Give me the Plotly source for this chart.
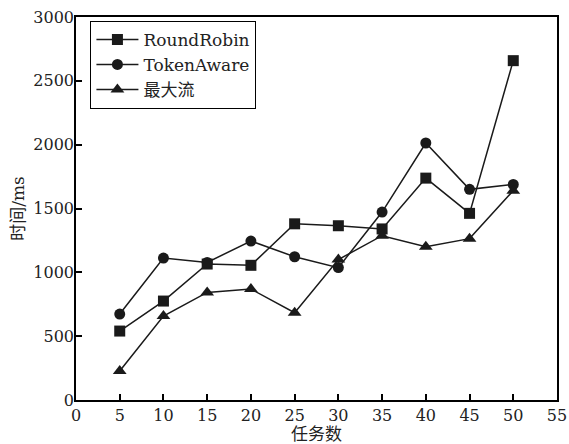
import plotly.graph_objects as go

tasks = [5, 10, 15, 20, 25, 30, 35, 40, 45, 50]
round_robin = [540, 775, 1065, 1055, 1380, 1365, 1340, 1738, 1462, 2658]
token_aware = [673, 1112, 1078, 1245, 1122, 1037, 1472, 2013, 1650, 1688]
max_flow = [227, 658, 843, 869, 684, 1100, 1287, 1200, 1264, 1640]

series = [
    ("RoundRobin", round_robin, "square"),
    ("TokenAware", token_aware, "circle"),
    ("最大流", max_flow, "triangle-up"),
]

FONT = "DejaVu Serif, Noto Sans CJK SC, serif"

fig = go.Figure()
for name, vals, sym in series:
    fig.add_trace(go.Scatter(
        x=tasks, y=vals, name=name, mode="lines+markers",
        line=dict(color="#1a1a1a", width=1.5),
        marker=dict(symbol=sym, size=11 if sym != "triangle-up" else 12, color="#1a1a1a"),
    ))

axis_common = dict(
    showline=True, linecolor="black", linewidth=1.5, mirror=True,
    ticks="inside", ticklen=6, tickcolor="black", tickwidth=1.5,
    showgrid=False, zeroline=False, automargin=False,
    tickfont=dict(family=FONT, size=16, color="#222"),
)

fig.update_layout(
    width=569, height=444,
    margin=dict(l=76, r=12, t=17, b=44),
    paper_bgcolor="white", plot_bgcolor="white",
    font=dict(family=FONT, size=16, color="#222"),
    xaxis=dict(range=[0, 55], dtick=5, tick0=0,
               title=dict(text="任务数", font=dict(family=FONT, size=17), standoff=0),
               **axis_common),
    yaxis=dict(range=[0, 3000], dtick=500, tick0=0, ticklabelstandoff=-3,
               title=dict(text="时间/ms", font=dict(family=FONT, size=17), standoff=4),
               **axis_common),
    legend=dict(x=0.03, y=0.99, xanchor="left", yanchor="top",
                bordercolor="black", borderwidth=1, bgcolor="white",
                font=dict(family=FONT, size=17), tracegroupgap=0,
                itemwidth=42),
    showlegend=True,
)

fig.write_html("out.html")
